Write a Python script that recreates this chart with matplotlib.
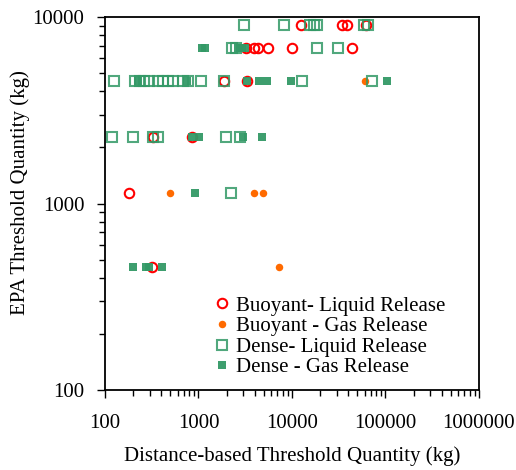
import numpy as np
import matplotlib
matplotlib.use('Agg')
import matplotlib.pyplot as plt

plt.rcParams['font.family'] = ['Liberation Serif', 'DejaVu Serif']

# EPA threshold quantity levels (kg)
# Buoyant - Liquid Release
bl_x = [12570, 34260, 38440, 61800,
        3222, 3924, 4329, 5538, 10000, 43850,
        1874, 3300,
        326, 852,
        181,
        316]
bl_y = [9072, 9072, 9072, 9072,
        6804, 6804, 6804, 6804, 6804, 6804,
        4536, 4536,
        2268, 2268,
        1134,
        454]

# Buoyant - Gas Release
bg_x = [60350, 499, 3892, 4895, 7314]
bg_y = [4536, 1134, 1134, 1134, 454]

# Dense - Liquid Release
dl_x = [3090, 8210, 15580, 17060, 18370, 58880, 65000,
        2281, 2518, 18500, 31050,
        125, 209, 237, 261, 296, 369, 417, 472, 534, 683, 772, 1064, 1874, 12790, 71740,
        119, 199, 326, 369, 1968, 2778,
        2210]
dl_y = [9072] * 7 + [6804] * 4 + [4536] * 15 + [2268] * 6 + [1134]

# Dense - Gas Release
dg_x = [1090, 1174, 2644, 2917, 3143,
        225, 754, 3300, 4437, 5403, 9750, 103700,
        852, 1012, 2992, 4778,
        918,
        201, 275, 296, 410]
dg_y = [6804] * 5 + [4536] * 7 + [2268] * 4 + [1134] + [454] * 4

green = '#339966'
fs = 15

fig = plt.figure(figsize=(5.16, 4.70), dpi=100)
ax = fig.add_axes([0.2035, 0.1702, 0.7245, 0.7936])

ax.plot(bl_x, bl_y, 'o', ms=6.8, mfc='none', mec='#ff0000', mew=1.5,
        label='Buoyant- Liquid Release')
ax.plot(bg_x, bg_y, 'o', ms=5.4, mfc='#ff6a00', mec='#ff6a00', mew=0,
        label='Buoyant - Gas Release')
ax.plot(dl_x, dl_y, 's', ms=6.6, mfc='none', mec=green, mew=1.5, alpha=0.85,
        label='Dense- Liquid Release')
ax.plot(dg_x, dg_y, 's', ms=5.8, mfc=green, mec=green, mew=0, alpha=0.95,
        label='Dense - Gas Release')

ax.set_xscale('log')
ax.set_yscale('log')
ax.set_xlim(100, 1000000)
ax.set_ylim(100, 10000)
fmt = matplotlib.ticker.FuncFormatter(lambda v, p: '%d' % round(v))
ax.xaxis.set_major_formatter(fmt)
ax.yaxis.set_major_formatter(fmt)
ax.xaxis.set_minor_formatter(matplotlib.ticker.NullFormatter())
ax.yaxis.set_minor_formatter(matplotlib.ticker.NullFormatter())
ax.tick_params(which='both', direction='out', top=False, right=False, labelsize=fs, colors='black')
ax.tick_params(which='major', length=6, width=1)
ax.tick_params(which='minor', length=4, width=1)
ax.tick_params(axis='x', which='major', pad=11)
ax.tick_params(axis='y', which='major', pad=9)
for s in ax.spines.values():
    s.set_linewidth(1.3)

ax.set_xlabel('Distance-based Threshold Quantity (kg)', fontsize=fs, labelpad=10)
ax.set_ylabel('EPA Threshold Quantity (kg)', fontsize=fs)
ax.yaxis.set_label_coords(-0.2, 0.53)

ax.legend(loc='upper left', bbox_to_anchor=(0.291, 0.252), frameon=False, fontsize=fs,
          handletextpad=0.25, labelspacing=0.05, handlelength=0.8,
          borderaxespad=0, borderpad=0)

fig.savefig('out.png', dpi=100)
